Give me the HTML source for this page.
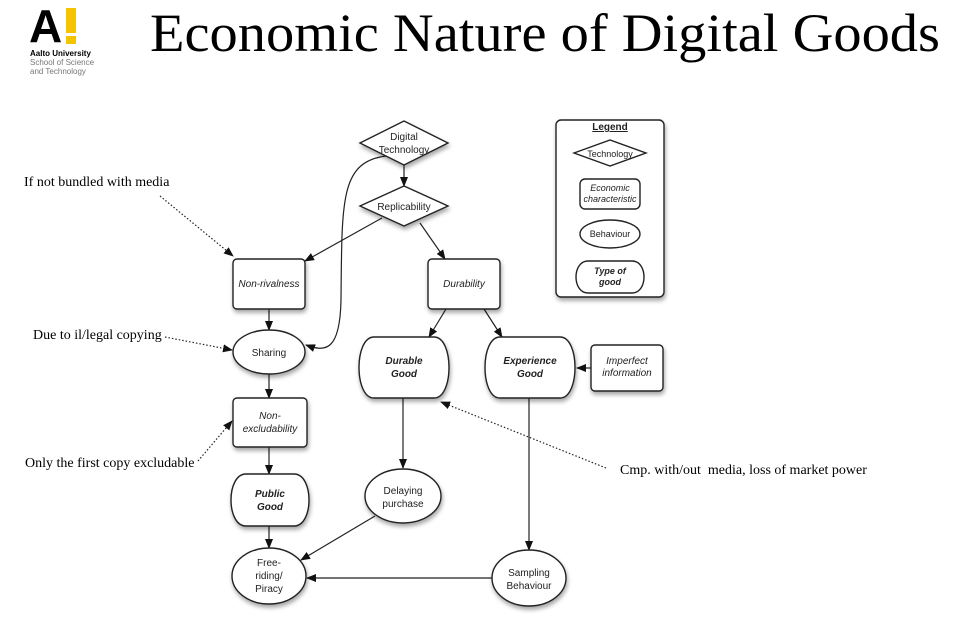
<!DOCTYPE html>
<html><head><meta charset="utf-8"><style>
html,body{margin:0;padding:0;background:#fff;}
svg{display:block;}
.n{fill:#fff;stroke:#222;stroke-width:1.4;filter:url(#sh);}
.t{font-family:"Liberation Sans",sans-serif;font-size:10px;fill:#222;text-anchor:middle;}
.i{font-style:italic;}
.b{font-weight:bold;font-style:italic;}
.a{stroke:#222;stroke-width:1.2;fill:none;marker-end:url(#ar);}
.d{stroke:#222;stroke-width:1.2;fill:none;stroke-dasharray:1.5 2;marker-end:url(#ar);}
.s{font-family:"Liberation Serif",serif;font-size:14px;fill:#000;white-space:pre;}
</style></head><body>
<svg width="965" height="620" viewBox="0 0 965 620" xmlns="http://www.w3.org/2000/svg">
<defs>
<marker id="ar" markerWidth="10" markerHeight="8" refX="9" refY="4" orient="auto" markerUnits="userSpaceOnUse"><path d="M0,0 L10,4 L0,8 Z" fill="#111"/></marker>
<filter id="sh" x="-20%" y="-20%" width="140%" height="150%"><feDropShadow dx="1" dy="3" stdDeviation="2" flood-color="#000" flood-opacity="0.35"/></filter>
</defs>
<!-- logo -->
<text x="29" y="42" font-family="Liberation Sans,sans-serif" font-weight="bold" font-size="46" fill="#000">A</text>
<rect x="66" y="8" width="10" height="25" fill="#f5c400"/>
<rect x="66" y="36" width="10" height="8" fill="#f5c400"/>
<text x="30" y="56" font-family="Liberation Sans,sans-serif" font-weight="bold" font-size="8" fill="#000">Aalto University</text>
<text x="30" y="65" font-family="Liberation Sans,sans-serif" font-size="8" fill="#777">School of Science</text>
<text x="30" y="74" font-family="Liberation Sans,sans-serif" font-size="8" fill="#777">and Technology</text>
<text x="150" y="51" textLength="790" lengthAdjust="spacingAndGlyphs" font-family="Liberation Serif,serif" font-size="54" fill="#000">Economic Nature of Digital Goods</text>

<!-- legend -->
<rect class="n" x="556" y="120" width="108" height="177" rx="5"/>
<text class="t b" x="610" y="130" style="font-style:normal;text-decoration:underline">Legend</text>
<polygon class="n" points="574,153 610,140 646,153 610,166" style="filter:none"/>
<text class="t" x="610" y="157" style="font-size:9px">Technology</text>
<rect class="n" x="580" y="179" width="60" height="30" rx="5" style="filter:none"/>
<text class="t i" x="610" y="191" style="font-size:9px">Economic</text>
<text class="t i" x="610" y="202" style="font-size:9px">characteristic</text>
<ellipse class="n" cx="610" cy="234" rx="30" ry="14" style="filter:none"/>
<text class="t" x="610" y="237" style="font-size:9px">Behaviour</text>
<path class="n" d="M588,261 L632,261 C648,261 648,293 632,293 L588,293 C572,293 572,261 588,261 Z" style="filter:none"/>
<text class="t b" x="610" y="274" style="font-size:9px">Type of</text>
<text class="t b" x="610" y="285" style="font-size:9px">good</text>

<!-- edges -->
<path class="a" d="M404,165 L404,186"/>
<path class="a" d="M386,156 C340,162 342,200 341,300 C340,352 325,352 306,345"/>
<path class="a" d="M382,218 L305,261"/>
<path class="a" d="M420,223 L445,259"/>
<path class="a" d="M269,309 L269,330"/>
<path class="a" d="M446,309 L429,337"/>
<path class="a" d="M484,309 L502,337"/>
<path class="a" d="M591,368 L577,368"/>
<path class="a" d="M269,374 L269,398"/>
<path class="a" d="M269,447 L269,474"/>
<path class="a" d="M403,398 L403,468"/>
<path class="a" d="M269,526 L269,548"/>
<path class="a" d="M375,516 L301,560"/>
<path class="a" d="M529,398 L529,550"/>
<path class="a" d="M492,578 L307,578"/>
<path class="d" d="M160,196 L233,256"/>
<path class="d" d="M165,337 L232,350"/>
<path class="d" d="M198,461 L232,421"/>
<path class="d" d="M606,468 L441,402"/>

<!-- nodes -->
<polygon class="n" points="360,143 404,121 448,143 404,165"/>
<text class="t" x="404" y="140">Digital</text>
<text class="t" x="404" y="153">Technology</text>
<polygon class="n" points="360,206 404,186 448,206 404,226"/>
<text class="t" x="404" y="210">Replicability</text>

<rect class="n" x="233" y="259" width="72" height="50" rx="4"/>
<text class="t i" x="269" y="287">Non-rivalness</text>
<rect class="n" x="428" y="259" width="72" height="50" rx="4"/>
<text class="t i" x="464" y="287">Durability</text>

<ellipse class="n" cx="269" cy="352" rx="36" ry="22"/>
<text class="t" x="269" y="356">Sharing</text>

<path class="n" d="M374,337 L434,337 C454,337 454,398 434,398 L374,398 C354,398 354,337 374,337 Z"/>
<text class="t b" x="404" y="364">Durable</text>
<text class="t b" x="404" y="377">Good</text>
<path class="n" d="M500,337 L560,337 C580,337 580,398 560,398 L500,398 C480,398 480,337 500,337 Z"/>
<text class="t b" x="530" y="364">Experience</text>
<text class="t b" x="530" y="377">Good</text>

<rect class="n" x="591" y="345" width="72" height="46" rx="4"/>
<text class="t i" x="627" y="364">Imperfect</text>
<text class="t i" x="627" y="376">information</text>

<rect class="n" x="233" y="398" width="74" height="49" rx="4"/>
<text class="t i" x="270" y="419">Non-</text>
<text class="t i" x="270" y="432">excludability</text>

<path class="n" d="M246,474 L294,474 C314,474 314,526 294,526 L246,526 C226,526 226,474 246,474 Z"/>
<text class="t b" x="270" y="497">Public</text>
<text class="t b" x="270" y="510">Good</text>

<ellipse class="n" cx="403" cy="496" rx="38" ry="27"/>
<text class="t" x="403" y="494">Delaying</text>
<text class="t" x="403" y="507">purchase</text>

<ellipse class="n" cx="269" cy="576" rx="37" ry="28"/>
<text class="t" x="269" y="566">Free-</text>
<text class="t" x="269" y="579">riding/</text>
<text class="t" x="269" y="592">Piracy</text>

<ellipse class="n" cx="529" cy="578" rx="37" ry="28"/>
<text class="t" x="529" y="576">Sampling</text>
<text class="t" x="529" y="589">Behaviour</text>

<!-- annotations -->
<text class="s" x="24" y="186">If not bundled with media</text>
<text class="s" x="33" y="339">Due to il/legal copying</text>
<text class="s" x="25" y="467">Only the first copy excludable</text>
<text class="s" x="620" y="474" xml:space="preserve">Cmp. with/out  media, loss of market power</text>
</svg>
</body></html>
